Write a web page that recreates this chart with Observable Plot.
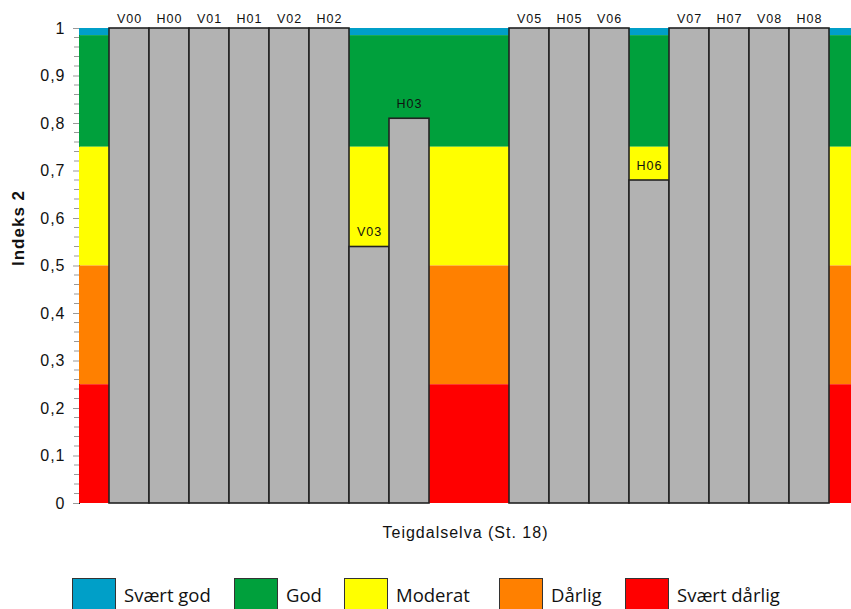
<!DOCTYPE html>
<html><head><meta charset="utf-8">
<script src="https://cdn.jsdelivr.net/npm/d3@7"></script>
<script src="https://cdn.jsdelivr.net/npm/@observablehq/plot@0.6"></script>
<style>
body{margin:0;background:#fff;}
#chart svg [aria-label^="y-axis"] line, #chart svg [aria-label^="y-axis"] path{stroke:#999;}
#chart svg [aria-label^="y-axis"] text{font-size:16px;}
#legend{position:relative;width:851px;height:54px;overflow:hidden;display:flex;align-items:flex-start;padding-left:72px;box-sizing:border-box;font-family:"Open Sans",sans-serif;font-size:18.5px;color:#111;}
.item{display:flex;align-items:center;margin-top:23px;flex:none;}
.item:nth-child(1){width:162px;}
.item:nth-child(2){width:110px;}
.item:nth-child(3){width:155px;}
.item:nth-child(4){width:126px;}
.sw{width:42px;height:30px;border:1.5px solid #333;margin-right:8px;}
</style></head><body>
<div id="chart"></div><div id="legend"></div>
<script>
const categories = ["V00","H00","V01","H01","V02","H02","V03","H03","V04","H04","V05","H05","V06","H06","V07","H07","V08","H08"];
const stations = ["V00","H00","V01","H01","V02","H02","V03","H03","V05","H05","V06","H06","V07","H07","V08","H08"];
const index2 = [1,1,1,1,1,1,0.54,0.81,1,1,1,0.68,1,1,1,1];
const classNames = ["Svært god","God","Moderat","Dårlig","Svært dårlig"];
const classFrom = [0.985,0.75,0.5,0.25,0];
const classTo = [1,0.985,0.75,0.5,0.25];
const classColors = ["#009fc8","#00a03c","#ffff00","#ff8000","#ff0000"];
const yTicks = [0,0.1,0.2,0.3,0.4,0.5,0.6,0.7,0.8,0.9,1];
const xTitle = "Teigdalselva (St. 18)";
const yTitle = "Indeks 2";

const bars = stations.map((s,i)=>({station:s, value:index2[i]}));
const bands = classNames.map((c,i)=>({cls:c, lo:classFrom[i], hi:classTo[i], color:classColors[i]}));
const minorValues = d3.range(0,51).filter(i=>i%5!==0).map(i=>i/50);
const fmt = d => String(+d.toFixed(1)).replace(".", ",");

const minorTicks = (index, scales, values, dimensions) => {
  const g = d3.create("svg:g").attr("stroke", "#999");
  for (const v of minorValues) {
    g.append("line")
      .attr("x1", dimensions.marginLeft - 5).attr("x2", dimensions.marginLeft)
      .attr("y1", scales.y(v)).attr("y2", scales.y(v));
  }
  return g.node();
};

const chart = Plot.plot({
  width: 851, height: 555,
  marginLeft: 79, marginRight: 0, marginTop: 28, marginBottom: 52,
  style: {fontFamily: "'Liberation Sans', Arial, sans-serif", fontSize: "15px", letterSpacing: "1px", color: "#111", background: "#fff", overflow: "visible"},
  x: {domain: categories, range: [108, 829], padding: 0, axis: null},
  y: {domain: [0,1], ticks: yTicks, tickFormat: fmt, tickSize: 6, tickPadding: 8, label: null, line: true},
  color: {type: "identity"},
  marks: [
    Plot.rect(bands, {y1:"lo", y2:"hi", fill:"color"}),
    minorTicks,
    Plot.barY(bars, {x:"station", y:"value", fill:"#b2b2b2", stroke:"#222", strokeWidth:1.6}),
    Plot.text(bars.filter(d=>d.value>=1), {x:"station", y:"value", text:"station", lineAnchor:"bottom", dy:-6, fontSize:12.5, fill:"#111"}),
    Plot.text(bars.filter(d=>d.value<1), {x:"station", y:"value", text:"station", lineAnchor:"bottom", dy:-11, fontSize:12.5, fill:"#111"}),
    Plot.text([xTitle], {frameAnchor:"bottom", dy:34, text:d=>d, fontSize:16, fill:"#111", letterSpacing:"1.3px"}),
    Plot.text([yTitle], {frameAnchor:"left", dx:-61, rotate:-90, text:d=>d, fontSize:17, fontWeight:"bold", fill:"#111"})
  ]
});
document.getElementById("chart").appendChild(chart);

const legend = document.getElementById("legend");
classNames.forEach((c,i)=>{
  const item = document.createElement("div"); item.className = "item";
  const sw = document.createElement("div"); sw.className = "sw"; sw.style.background = classColors[i];
  const t = document.createElement("span"); t.textContent = c;
  item.appendChild(sw); item.appendChild(t); legend.appendChild(item);
});
</script></body></html>
